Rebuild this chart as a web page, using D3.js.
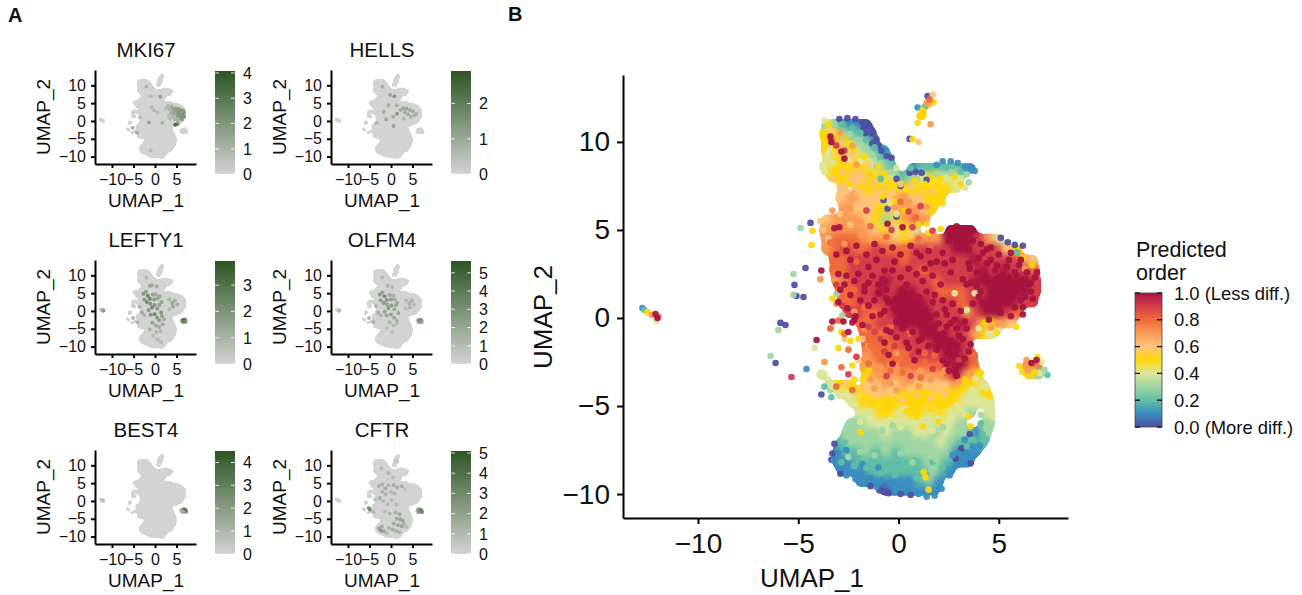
<!DOCTYPE html>
<html><head><meta charset="utf-8">
<script src="https://cdn.jsdelivr.net/npm/d3@7"></script>
<style>html,body{margin:0;background:#fff}svg{display:block}text{font-family:"Liberation Sans",Arial,sans-serif;fill:#111}</style>
</head><body><svg id="c" width="1302" height="595"></svg>
<script>
// Predicted order; v is tenths of the 0-1 scale. Rows: [umap2, [umap1, v, umap1, v, ...]]
const upperLobeRows = [
 [12.2,[1.5,6]],[11.5,[1.15,5]],
 [11.0,[-3.5,4,-3,2,-2.5,1,-2,1,-1.6,0]],
 [10.5,[-3.7,5,-3.2,5,-2.7,3,-2.2,2,-1.8,2,-1.35,0]],
 [10.0,[-3.6,5,-3.1,7,-2.6,5,-2.1,3,-1.6,3,-1.2,1]],
 [9.5,[-3.6,5,-3.1,6,-2.6,5,-2.1,4,-1.6,3,-1.1,2,-.7,1]],
 [9.0,[-3.5,4,-3,5,-2.5,6,-2,5,-1.5,4,-1,3,-.5,2]],
 [8.5,[-3.7,4,-3.2,5,-2.7,5,-2.2,5,-1.7,5,-1.2,4,-.7,3,-.3,2,.7,1,1.2,2,1.7,2,2.2,2,2.7,2,3.2,2,3.6,1]],
 [8.0,[-3.3,5,-2.8,5,-2.3,6,-1.8,6,-1.3,5,-.8,5,-.3,4,.2,2,.7,3,1.2,4,1.7,5,2.2,4,2.7,4,3.1,4]],
 [7.4,[-2.8,6,-2,6,-1.5,5,-1,6,-.5,5,0,5,.5,5,1,5,1.5,5,2,5,2.5,5,2.9,4]],
 [6.8,[-2.9,6,-2.3,7,-1.7,6,-1,6,-.4,6,.1,7,.6,6,1.1,6,1.6,5,2.1,5]],
 [6.2,[-2.7,7,-2.1,6,-1.5,6,-.9,5,-.3,6,.2,7,.7,7,1.2,6,1.7,5]],
 [5.6,[-3.6,6,-3.1,7,-2.6,7,-2.1,7,-1.6,6,-1.1,5,-.6,3,-.1,5,.4,7,.9,8,1.3,7]],
 [5.0,[-3.7,7,-3.2,7,-2.7,7,-2.2,7,-1.7,7,-1.2,6,-.7,5,-.2,4,.3,5,.8,4,2.6,10,3.1,10,3.6,10]],
 [4.5,[-3.6,7,-3.1,8,-2.6,8,-2.1,8,-1.6,7,-1.1,7,-.6,7,-.1,6,.4,5,.9,7,1.4,7,1.9,7,2.5,10,3,10,3.5,10,4,9,4.5,7,5,4]]
];
const middleBodyRows = [
 [3.9,[-3.6,7,-3.1,8,-2.6,9,-2.1,8,-1.6,8,-1.1,9,-.6,8,-.1,8,.4,8,.9,9,1.4,9,1.9,9,2.4,9,2.9,10,3.4,10,3.9,9,4.4,9,4.9,9,5.4,6,5.9,5]],
 [3.3,[-3.2,8,-2.7,8,-2.2,9,-1.7,9,-1.2,9,-.7,9,-.2,9,.3,8,.8,9,1.3,9,1.8,9,2.3,9,2.8,9,3.3,9,3.8,10,4.3,9,4.8,9,5.3,9,5.8,9,6.3,7,6.7,6]],
 [2.7,[-3.2,8,-2.75,8,-2.25,9,-1.75,9,-1.25,9,-.75,9,-.25,9,.25,9,.75,9,1.25,8,1.75,9,2.25,9,2.75,9,3.25,9,3.75,9,4.25,10,4.75,9,5.25,10,5.75,9,6.25,9,6.8,8]],
 [2.1,[-3.1,7,-2.6,8,-2.1,9,-1.6,9,-1.1,9,-.6,10,-.1,9,.4,9,.9,9,1.4,9,1.9,8,2.4,9,2.9,9,3.4,9,3.9,10,4.4,10,4.9,10,5.4,10,5.9,10,6.4,10,6.85,9]],
 [1.5,[-2.9,8,-2.35,8,-1.85,9,-1.35,9,-.85,10,-.35,9,.15,10,.65,10,1.15,9,1.65,9,2.15,8,2.65,8,3.15,8,3.65,9,4.15,9,4.65,10,5.15,10,5.65,10,6.15,10,6.85,9]],
 [.9,[-2.8,8,-2.3,8,-1.8,9,-1.3,9,-.8,9,-.3,10,.2,10,.7,10,1.2,10,1.7,9,2.2,9,2.7,9,3.2,8,3.7,9,4.2,10,4.7,10,5.2,10,5.7,10,6.2,9,6.7,9]],
 [.3,[-2.5,9,-2,9,-1.55,8,-1.05,8,-.55,9,-.05,10,.45,10,.95,10,1.45,10,1.95,9,2.45,9,2.95,9,3.45,7,3.95,9,4.45,10,4.95,10,5.45,9,5.95,8]],
 [-.3,[-1.9,8,-1.4,8,-.9,9,-.4,9,.1,10,.6,10,1.1,10,1.6,10,2.1,9,2.6,9,3.1,10,3.6,9,4.1,7,4.6,5,5.1,7,5.6,6]],
 [-.9,[-1.7,8,-1.2,8,-.7,8,-.2,9,.3,9,.8,9,1.3,10,1.8,10,2.3,10,2.8,9,3.3,9,3.8,7,4.3,5,4.7,4]],
 [-1.5,[-1.6,8,-1.1,8,-.6,8,-.1,8,.4,9,.9,9,1.4,9,1.9,10,2.4,10,2.9,10,3.4,9]],
 [-2.1,[-1.55,7,-1.05,8,-.55,8,-.05,8,.45,8,.95,9,1.45,9,1.95,9,2.45,10,2.95,10,3.45,9,3.7,8]],
 [-2.7,[-1.7,7,-1.2,7,-.7,8,-.2,7,.3,8,.8,8,1.3,8,1.8,8,2.3,9,2.8,10,3.3,10,3.75,8,6.4,7,6.9,8]],
 [-3.2,[-3.85,4,-1.6,5,-1.1,7,-.6,7,-.1,7,.4,7,.9,7,1.4,7,1.9,7,2.4,8,2.9,10,3.4,7,3.9,5,6.5,5,7,3]],
 [-3.8,[-3.4,4,-2.9,5,-2.4,5,-1.6,6,-1.15,6,-.65,7,-.15,6,.35,7,.85,6,1.35,6,1.85,6,2.35,6,2.85,7,3.3,5,3.85,5,4.25,4]],
 [-4.3,[-2.9,4,-2.4,4,-1.9,5,-1.5,6,-1,6,-.5,6,0,6,.5,5,1,5,1.5,5,2,6,2.5,5,3,5,3.5,4,4,4,4.4,5]],
 [-4.8,[-2.3,4,-1.8,5,-1.25,5,-.75,5,-.25,5,.25,5,.75,5,1.25,5,1.75,5,2.25,5,2.75,5,3.25,4,3.75,4,4.2,4,4.55,4]]
];
const lowerLobeRows = [
 [-5.4,[-1.9,4,-1.4,4,-.9,5,-.4,5,.1,4,.6,5,1.1,5,1.6,4,2.1,5,2.6,4,3.1,4,3.6,3,4.55,4]],
 [-6,[-2.4,3,-1.9,3,-1.4,4,-.9,4,-.4,4,.1,4,.6,4,1.1,4,1.6,4,2.1,4,2.6,4,3.1,3,4.3,3,4.55,3]],
 [-6.5,[-2.6,3,-2.1,3,-1.6,3,-1.1,3,-.6,4,-.1,3,.4,3,.9,4,1.4,4,1.9,3,2.4,4,2.9,3,3.4,3,3.9,1,4.4,3]],
 [-7.1,[-2.9,2,-2.4,3,-1.9,3,-1.4,3,-.9,3,-.4,3,.1,3,.6,3,1.1,3,1.6,3,2.1,4,2.6,3,3.1,2,3.6,2,4.2,2]],
 [-7.6,[-3.05,1,-2.6,2,-2.1,2,-1.6,3,-1.1,2,-.6,3,-.1,2,.4,3,.9,3,1.4,3,1.9,3,2.4,3,2.9,1,3.4,1,3.85,1]],
 [-8.2,[-3.05,1,-2.55,1,-2.05,2,-1.55,2,-1.05,2,-.55,2,-.05,2,.45,2,.95,2,1.45,3,1.95,3,2.4,2,3.05,1,3.5,1]],
 [-8.7,[-2.8,1,-2.3,1,-1.8,1,-1.3,2,-.8,2,-.3,2,.2,2,.7,2,1.2,2,1.7,3,2.25,2,2.55,1]],
 [-9.3,[-1.9,1,-1.4,1,-.9,1,-.4,1,.1,1,.6,1,1.1,2,1.6,3,2,1]],
 [-9.8,[-.7,0,-.2,1,.3,1,.8,1,1.3,1,1.8,1]]
];
// Single cells drawn on top: [v, [umap1, umap2, umap1, umap2, ...]]
const cellSpots = [
 [0,[-2.95,11.3,-2.55,11.35,-2.15,11.3,-1.8,11.1,-1.5,10.9,-1.3,10.5,-1.1,10.15,-1,9.8,-.85,9.5,-.6,9.2,-.35,9.1,.55,8.25,.85,8.3,1.15,8.25,1.4,7.85,-.1,7.9,.1,7.5,-4.39,5.4,-4.64,2.84,-5.19,1.88,-5.09,1.25,-4.74,1.19,-5.89,-.28,-5.64,-.4,-6.13,-2.56,-3.85,-4.35,.55,10.17,1.45,12.6,5.1,4.55,5.45,4.3,5.8,4.15,6.2,4.1,-.75,6.7,-.55,6.2,-.1,5.75,-3.2,-7.15,-3.3,-7.7,-3.35,-8.05,-2.9,-8.85,2.85,-8,3.15,-7.4,3.55,-6.6,3.6,-8.25,-1.4,-9.55,-.95,-9.8,-.5,-9.95,.1,-10,.6,-10.05,-1.65,10.5,-1.3,9.9,-1.75,10.8]],
 [1,[1.9,8.7,2.2,8.9,2.6,8.9,2.95,8.8,3.3,8.55,3.6,8.5,3.8,8.35,-4.59,-2.9,-12.77,.57,-3.25,-8.1,-3,-8.5,-2.6,-8.95,-2.15,-9.15,-1.7,-9.4,-1.1,-9.6,-.2,-9.7,1,-10,1.4,-10.15,1.8,-10.1,2.15,-9.7,2.55,-8.95,2.85,-8.4,3.3,-8.05,3.8,-7.7,4.05,-7.25,.95,11.95,-3,-7.7,-2.7,-8.3,-2.3,-8.7,-1.9,-8.9,-1.4,-9.1,-.9,-9.3,-.4,-9.4,.1,-9.6,.5,-9.3,-2.6,-7.5,-1.8,-8.3,-1,-8.5,3.3,-6.9,3.7,-7.3,2.7,-7.8]],
 [2,[-12.67,.45,-2.8,11,-2.3,10.8,-1.9,10.5,-1.6,10.1,-1.2,9.7,-.9,9.05,.6,8.5,1.5,8.55,2.4,8.55,3.1,8.3,-3.35,-4.5,-3.7,-3.9,-2.85,-8.2,-2.2,-8.4,-1.6,-8.5,-.9,-8.8,-.2,-8.9,.9,-9.1,1.4,-8.9,2.2,-8.5,3.4,-7.3,3.7,-6.9,4.2,-6.6,7.43,-3.24,1.3,12,5.9,3.75,-2.7,-7.1,-2,-7.9,-1.3,-8.1,-.5,-8.3,.3,-8.6,.8,-8.1,1.7,-8.2,4.1,-6,4.4,-6.9,-.9,7.9]],
 [3,[-4.89,5.11,-5.24,2.5,-5.24,1.31,-5.99,-.68,-6.38,-2.16,-3.4,-4.1,-3.7,10.9,-3.2,11,-2.4,10.45,-1.95,9.9,-1.35,9.3,-.9,8.8,-.4,8.3,.9,7.9,1.9,8.2,2.6,8.25,3.4,8.15,3.5,7.7,-2.5,-7.9,-1.9,-7.6,-1.2,-7.8,-.7,-7.4,.1,-7.7,.7,-8.2,1.2,-7.6,1.85,-8,-2.1,-6.3,-1.3,-6.8,-.3,-6.1,.5,-6.6,2.2,-6.2,3.1,-6.25,4.1,-5.5,7.28,-2.95,-2.8,.15,-3.1,1.35,-2.3,-6.9,-1.7,-7,-.8,-6.4,-.1,-6.8,1,-7,1.6,-7.3,2.6,-6.9,-2.7,9.6,-2,10.1,-1.6,9.6,-1.1,8.6,4.4,-6.3,-2.4,-6.6]],
 [4,[-4.19,-1.7,-12.07,-.17,-3.7,11.2,-3.55,9.3,-3.8,8.7,-3.7,8.3,-3.25,8.8,3.3,7.4,-3.7,-3.2,-3.5,-3.5,-3.3,-3.9,-2.95,-4.4,-2.6,-4.55,-2.2,-4.9,-1.4,-5.7,-.5,-5.6,.3,-5.1,1.2,-5.8,2,-5.7,2.9,-5,3.5,-4.8,3.7,-4.1,3.85,-3.45,4.35,-3.9,4.65,-5,4.7,-5.6,2.8,1.4,3.8,1.4,3.4,.45,7.13,-2.5,7.03,-3.13,4,-.6,4.5,-.9,5,-.7,-1.9,-5.9,-1,-6,.1,-6.2,.8,-5.9,1.7,-6.4,2.6,-5.7,3.3,-5.5,-2.5,9,-1.9,8.9,-3.4,9.6,-.1,8.5,-.4,6.5,-.1,5.9]],
 [5,[-12.52,.34,-3.75,10.3,-3.65,9.9,-3.15,9.6,-2.5,9.9,-1.7,9.2,-1,8.6,-.4,7.75,.4,7.3,1.3,7.6,2.1,7.9,2.8,8,3.1,7.6,-2.7,7.85,-1.9,7.5,-.8,6.9,.3,6.1,1,5.3,1.4,5.35,-3,-1.7,-3.3,1.1,-2.85,-.8,-2.4,-1.3,-2,-1.2,-2.3,-2.7,-2.2,-3.5,-3,-3.8,-2.5,-3.9,-1.8,-3.5,-1.5,-3,-1.2,-4.7,-.5,-4.6,.1,-4.4,.7,-4.9,1.3,-4.3,2,-4.4,2.6,-4.6,3.3,-3.5,4.1,-3.1,4.25,-4.25,4.55,-4.45,6.03,-2.73,6.18,-3.07,6.78,-3.07,6.93,-2.22,.7,10.15,1.05,11.45,.95,11.07,1.75,12.25,1.15,11.65,1.2,11.8,-1.9,-6.5,1.2,-6.15,1.35,-9.05,1.25,-8.75,1.5,-9.75,3.5,-5.6,3.6,-6.15,6.2,3.4,6.65,3,2.1,5.05,1.5,4.85,4.9,-.85,4.3,-.25,5.85,-.5,-4.29,4.94,-4.34,4.15,-1.4,-4.9,-.8,-5.1,-.2,-4.9,.4,-5.3,1,-5,1.6,-5.2,2.2,-4.9,2.8,-4.2,3.2,-4,-.6,-5.5,.9,-5.6,2,-5.9,-1.6,-4.5,-.9,-4.6,.2,-4.8,1.9,-4.7,-3.5,11,-3.2,10.3,-2.2,9.5,-1.4,8.3,-.7,8.2,-1.5,7.2,-2.4,7.6,-1,7.5,1.9,7.5,.8,7.8,1.5,6.7,2.2,6.5,-.2,6.6]],
 [6,[-3.3,10.6,-2.9,9.95,-2.3,9.3,-1.5,8.7,-2.8,8.3,-2,8.3,-1.2,7.75,-.3,7.1,.6,7.5,1.7,7.2,-3.9,5.5,-3.75,5,-3.5,4.5,-2.9,5.9,-2.4,5.3,-1.2,5,-.2,5.3,.6,4.7,-2.7,-1.2,-3.7,-2.5,-3.9,2.2,-2.65,-3.7,-2,-2.4,-1.8,-1.2,-1,-4,-.2,-3.7,.6,-4,1.5,-3.9,2.3,-3.8,1,10,1.7,12.67,-1,-4.4,-.4,-4.2,.2,-4.7,.9,-4.4,1.6,-4.6,2.3,-4.3,-3.3,7.9,-2.6,7.2,-2,6.3,.1,7.6,1,6.6]],
 [7,[-12.3,.17,-11.97,.1,-3.3,10.2,-2.9,10.5,-2.3,9.8,-2.1,8.7,-.2,6.3,.5,6.6,1.2,5.6,-3.3,6.1,-2.4,6.2,-1.9,4.7,-3.4,-.6,-3.69,-2.5,-3.1,.8,-2.2,.35,-1.7,-.6,-1.5,-1.6,-1.7,-2.3,-.9,-2.8,-.1,-2,1,-3,2.3,-3,3,-3.6,3.6,-3.1,6.38,-2.39,6.43,-2.95,1.4,12.2,1.6,11,5,-.3,4.6,-.55,6.3,2.8,-3.9,2.2,-1.4,-3.5,-.9,-3.2,-.4,-3.7,.1,-3.2,.6,-3.6,1.1,-3,1.6,-3.5,2.1,-3.2,-1.2,-4,-.1,-4.1,1,-3.9,-1.9,5.5,-2.7,4.2,-1.4,4.4,.3,6.9,.9,6.2,1.4,6.3]],
 [8,[-3.4,-.6,-3,-.15,-2.7,-.9,-2.85,-2.8,-3.1,-3.9,-2.3,-4.1,-3.4,4.3,-2.9,3,-2.1,3.2,-1.4,5.2,-.6,4.6,.3,4,1,4.5,1.6,4.1,-2.5,-1.8,-1.1,-1.1,-.4,-.5,.5,-.9,-.9,-2,.2,-2.6,1.3,-2,2,-2.6,1.55,12.4,.1,6.6,.85,5.7,-1.4,-1.6,-.8,-1.5,-.2,-2.4,.3,-1.9,.8,-2.8,1.3,-2.5,1.8,-2.1,-1.5,-2.6,-.9,-2.3,-.4,-3,.2,-3.1,1.1,-3.4,-1.6,-.4,-.9,-.9,-1.7,.6,-2.2,1.6]],
 [9,[-5.34,-3.35,-2.5,-3.2,-3.1,9.8,-2.7,9.5,-1.6,6.1,.5,6.05,1.1,6.35,-.35,5,.7,5.15,1.7,4.95,-3.1,1.9,-2.8,.7,-2.1,-2.2,-1.5,-.5,-.9,-1.2,-.2,-1.6,.7,-2.1,-.6,-3.3,.6,-3.3,1.7,-2.9,3,-2.4,-1.1,1,-.4,-.2,1.2,-1.5,2.1,-.6,.3,-1,-.7,-1.9,-1.2,-.8]],
 [10,[-4.09,-1.25,-3.85,2.7,-3.3,-.2,-2.75,-.2,-2.3,-.25,-3.2,5.1,-2.95,5.15,-3.4,10.3,-3.35,10,-2.85,9.45,-2.7,9.05,-.55,5.35,.2,5.15,-2.55,.55,-2.5,-.8,-2.15,.1,-3,2.5,-2.7,1.9,-2.4,3.3,-2,2.5,-2.4,1.3,-1.9,1,-1.5,2.9,-1.1,3.3,-1,1.9,-.7,2.7,-.5,.9,-.2,3.2,.2,1.6,.5,2.8,.7,.4,.9,3.7,1,1.2,1.2,2.1,1.4,-.4,1.6,3.1,1.7,.9,1.95,-1,2.1,1.9,2.2,3.7,2.3,.5,2.4,-.5,2.6,2.6,2.7,3.3,2.65,4.8,2.9,4.2,3.05,5.1,3.3,4.6,3.5,3.9,3.7,5,3.2,2.2,3.55,2.8,3.9,1.8,4,3.4,4.2,.8,4.3,2.4,4.5,-.1,4.6,4,4.7,1.5,4.9,3,5,.4,5.1,2.3,5.3,1.2,5.5,3.3,5.6,.1,5.7,1.9,6,3,6.1,1,6.3,2.2,6.6,1.5,6.8,2.3,6.2,.2,5,1.6,4.4,3.1,-1.5,2,-.6,1.1,.2,-.6,1,-1.3,-.9,.2,-.4,-.8,.5,-1.7,1.9,-1.8,2.6,-1.3,3.2,-1.2,2.2,-2.4,2.7,-2.1,3,-2.7,3.5,-1.9,2.5,-3,2.9,-3.3,3.6,-1.5,-.3,-2.6,6.63,-2.56,6.88,-2.39,-12.12,.22,-12.02,0,.8,-2.4,1.15,-1.2,1.9,.2,2.9,-.6,3.3,-.2,-1.2,1,-1.7,1.5,-.1,-.2,3.4,1.9,4.9,2.2,5.8,2.6,6.5,1.9,-2.6,3.8,-2.1,4.1,-1.6,3.6,-1.2,4.2,-.8,3.8,-.3,4,.1,3.6,.6,4.1,1.1,3.5,1.5,3.8,1.9,3.2,2.3,3.1,-2.2,2.1,-1.7,1.8,-1.3,2.4,-.8,2.2,-.3,2.7,.1,2.3,.4,1.9,.9,2.5,1.3,2.8,1.7,2.4,-1.5,.7,-1,1.4,-.6,1.6,-.1,1.1,.3,.9,.7,1.4,1,.7,1.4,1.5,1.8,1.3,2.2,1,2.7,.8,-.7,.4,-.2,.5,.2,.1,.6,-.1,1,.2,1.3,.5,1.6,.1,2,-.3,2.4,.2,2.8,-.1,3.1,.4,-.6,-.7,-.1,-1.1,.3,-.4,.7,-.8,1.1,-.3,1.5,-.9,1.8,-.5,2.2,-.9,2.6,-.3,3,-1,3.4,-.6,1.5,-1.6,2.1,-1.5,2.5,-1.9,2.9,-1.6,3.3,-2.3,2.4,-2.6,2.8,-3,1,-1.9,.4,-1.4,-.5,-2.1,3.5,3.1,3.9,2.6,4.2,3.7,4.4,2,4.6,3.3,4.8,2.7,5,3.6,5.2,2.1,5.4,2.9,5.6,3.7,5.8,1.5,5.9,2.4,6.1,3.3,6.3,1.2,6.4,2.6,6.6,2,6.7,1.1,6.9,2.6,3.7,.8,4,1.2,4.4,.5,4.8,1,5.1,.3,5.4,.9,5.8,.6,6.2,.6,3.6,2,4.1,1.5,5,1,5.5,2.3,2.5,4.4,2.8,4.7,3,5,3.3,5.1,3.5,4.8,3.7,4.4,3.2,4.3,2.6,5,2.9,5.2,3.4,4.3,4.1,4.2,4.4,3.9,-3.1,3.6,-2.9,1.6,-3,.9,-2.6,2.4,-2.2,-.1,-1.8,-.4,-1.3,.1,-.7,-1.4,1.2,-.9]]
];
// Cells with expression above zero: flat triples umap1, umap2, expression
const mki67Cells = [2.6,3.6,.9,3,4.2,1,3.4,3.3,1.2,3.7,2.2,1.2,3.9,4.1,1.4,4.2,3.2,1.5,4.4,1.9,1.6,4.8,3.6,1.7,5,2.6,1.9,5.2,1.3,1.8,5.4,3.4,2,5.7,2.2,2.1,5.9,.9,2,6.1,3,2.2,6.4,1.8,2.3,6.7,2.4,2.3,6.8,1.2,2.2,6.3,.4,2,5.3,.1,1.6,4.6,.5,1.3,4,1.1,1,3.2,1.5,.9,4.7,3,1.7,5.6,2.9,2,5.4,1.9,2,4.4,2.6,1.6,6.2,1.3,2.2,6.5,2.9,2,3.5,.6,.9,4.7,-1.1,4,5.2,-.9,3,-2,9.7,1.2,-1,6.9,.8,1.2,6.8,1.7,-.2,2.9,.8,-1.4,-.4,1.7,1.7,-.6,1.2,-3.5,1,.9,-.8,3.8,.9,.6,2.4,.8,-5.2,-1.9,1.5,-4.2,-3.3,1.3,-1,-8.2,1];
const hellsCells = [1.3,4.4,.9,2.2,3.1,1,2.8,3.6,1.1,3.2,2.4,1,3.6,3.4,1.2,4,1.9,1,4.3,3.1,1,4.6,1.1,.9,5.1,2.7,1.1,5.4,1.5,.9,5.9,2,.8,3,.6,.8,1.4,2,1.5,.5,1.2,1,-.6,4.4,.9,-1.7,2.6,1,-2,9.6,1,-.2,7.3,1.2,.8,6.9,1.5,-1.1,.4,1.2,.6,-1.4,1.3,-3.4,-.6,.8];
const lefty1Cells = [-2,9.3,1,-1.2,7.1,1.6,-.7,7.2,1.4,.4,6.9,1.3,-2.7,4.8,2.2,-2.1,5.4,2,-1.7,4.3,2.7,-1.2,3.4,2.8,-2.5,3.2,2,-1.9,2.5,2.6,-1.1,2,2.3,-.5,4.6,1.8,-.2,3.2,2,.2,4.6,1.4,.6,3.5,1.6,1.1,4.1,1.4,1.5,2.5,1.8,-.7,1,2.6,-.1,1.7,2.3,.5,.6,2,1,1.7,1.8,1.4,-.4,2.2,-1.5,.3,2,-1,-1.1,2.3,-.1,-.9,2.6,.5,-1.9,2.2,1,-2.6,1.8,1.6,-1.4,1.7,2.1,-2.3,1.4,-.6,-3.3,1.8,.2,-4.1,1.6,1,-4.5,1.5,1.8,-3.7,1.4,-1.2,-5.2,1.2,.3,-5.9,1,1.3,-5.6,1.1,-.4,-7,.9,.6,-8,1,1.4,-8.8,.9,3.3,3.2,1.2,4,2.2,1.6,4.6,2.9,1.4,4.2,1.2,1.5,5.2,1.8,1.3,3.3,.5,.9,6.4,-2.6,2.8,6.7,-2.7,3.4,6.9,-2.5,3.2,6.6,-3,2.8,7,-3,2.2,-12,.1,2.6,-12.2,.3,1.3,-3.6,1.2,1,-5.1,-2,1.2,-4,-3.2,1,-3,-.4,1.4,-2.5,-1.2,1.1];
const olfm4Cells = [-2,9.4,1.3,-.8,7.1,1.6,.3,6.7,1.4,-2.6,4.6,2.8,-2,5.2,2.4,-1.5,4.1,3.4,-1,3.1,3.2,-2.4,3,2.6,-1.7,2.2,3,-.9,1.8,2.4,-.3,4.5,2.2,0,3.2,2.8,.5,4.3,1.9,.9,3.2,1.8,1.4,2.3,2,-.6,.8,3,.1,1.5,2.8,.8,.5,2.2,1.1,1.6,2,1.7,-.6,2.2,-1.5,-.2,2.4,-1,-1.3,2.4,0,-1,2.6,.7,-1.9,2.2,1.3,-2.6,1.6,-.3,-3.2,1.5,.6,-4.1,1.4,1.4,-3.5,1.2,3.5,2.9,1.4,4.3,2.1,1.9,4.8,3,1.6,4.4,1,1.7,5.4,1.8,1.3,3.4,.7,1.2,6.4,-2.6,2.2,6.7,-2.7,3.8,7,-2.6,3.2,6.6,-3,3,7,-3,2.4,-3.5,1.4,1.5,-5.1,-2,1.8,-4.1,-3.1,1.6,-3,-.5,1.9,-2.4,-1.2,1.5,-1,-4.8,1,.2,-6,.9,-12,.1,1.4];
const best4Cells = [6.1,-2.6,1,6.4,-2.4,1.6,6.7,-2.3,2.4,7,-2.5,3.2,7.2,-2.8,3.6,6.9,-3,2.6,6.6,-3,1.6,6.3,-3,1.2,-12.1,.2,.9];
const cftrCells = [-2.2,9.2,1,-.6,7.8,1.3,.5,6.6,1,1.3,11.2,.8,-2.8,4.2,1.5,-2,4.6,1.6,-1.3,3.5,1.8,-.6,4.4,1.5,.6,4.5,1.8,1.4,3.8,1.5,-2,2.5,1.5,-1.2,1.9,1.3,0,2.6,1.4,.8,2.1,1.2,2.5,4.1,1.6,3.2,3.2,.9,-2.6,.8,1.8,-1.8,-.1,1.2,-.8,-.9,1.1,.2,.3,1.1,1.2,-1,1.3,-1.4,-3,1,-.3,-3.5,1.2,1.1,-3.3,1.6,2,-3.7,2,1.3,-5,1.8,2.2,-5.1,2.3,2.8,-5.6,2.1,.6,-6.3,1.8,1.6,-6.8,2,2.5,-7.1,2.2,3,-6.5,1.5,-.5,-7.6,1.5,.4,-8,1.6,1.3,-8.4,1.7,-2.8,-7.7,2.2,-2.3,-8.3,2.6,-1.6,-8.6,2,-2.1,-7.2,1.8,-1,-9,1.3,2,-8.8,1.3,3.6,-7.3,1.1,6.2,-2.5,1.8,6.6,-2.3,2.4,7,-2.7,3.6,7.2,-3.1,3.2,6.4,-3.1,2.8,-5.2,-2,2.8,-4.9,-2.4,3.4,-4.1,-3.2,1.2,-3.7,.4,1.1];
const orderTicks = [0,.2,.4,.6,.8,1];
const orderLabels = ["0.0 (More diff.)","0.2","0.4","0.6","0.8","1.0 (Less diff.)"];
const umap1Ticks = [-10,-5,0,5];
const umap2Ticks = [-10,-5,0,5,10];
const genes = ["MKI67","HELLS","LEFTY1","OLFM4","BEST4","CFTR"];
const geneCells = [mki67Cells,hellsCells,lefty1Cells,olfm4Cells,best4Cells,cftrCells];
const geneMax = [4.08,2.92,3.92,5.65,4.5,5.1];

const orderStops = [0,.1,.2,.3,.4,.5,.6,.7,.8,.9,1];
const orderColors = ["#4f4ea3","#3a8dbf","#5fbea6","#9fd6a4","#dbe69b","#ffd60c","#fdc57a","#f99a55","#ef6a3c","#d43d4a","#a5133f"];
const orderColor = d3.scaleLinear().domain(orderStops).range(orderColors);

const wash = [...upperLobeRows,...middleBodyRows,...lowerLobeRows].flatMap(([y,r])=>d3.range(0,r.length,2).map(i=>({x:r[i],y,v:r[i+1]/10})));
const spots = cellSpots.flatMap(([v,r])=>d3.range(0,r.length,2).map(i=>({x:r[i],y:r[i+1],v:v/10})));
const svg = d3.select("#c");
const defs=svg.append("defs");
function goo(id,sd,a,b){
  const f=defs.append("filter").attr("id",id).attr("x","-5%").attr("y","-5%").attr("width","110%").attr("height","110%").attr("color-interpolation-filters","sRGB");
  f.append("feGaussianBlur").attr("stdDeviation",sd);
  f.append("feColorMatrix").attr("values",`1 0 0 0 0 0 1 0 0 0 0 0 1 0 0 0 0 0 ${a} ${b}`);
}
goo("washGoo",3.2,14,-6.5);
goo("baseGoo",.9,8,-3);
defs.append("filter").attr("id","soft").append("feGaussianBlur").attr("stdDeviation",.55);

function axes(g,x,y,xt,yt,fs,ts,w,padX,padY){
  const [l]=x.range(), [b]=y.range();
  const ax=g.append("g").attr("transform",`translate(0,${b})`).call(d3.axisBottom(x).tickValues(xt).tickSize(ts).tickSizeOuter(0).tickPadding(padX));
  const ay=g.append("g").attr("transform",`translate(${l},0)`).call(d3.axisLeft(y).tickValues(yt).tickSize(ts).tickSizeOuter(0).tickPadding(padY));
  [ax,ay].forEach(a=>{
    a.selectAll("path").attr("stroke","#000").attr("stroke-width",w);
    a.selectAll("line").attr("stroke","#000").attr("stroke-width",w);
    a.selectAll("text").attr("font-size",fs).attr("font-family",'"Liberation Sans",Arial,sans-serif').attr("fill","#111");
  });
}

// Panel B
const bx=d3.scaleLinear().domain([-13.74,8.45]).range([623,1068]);
const by=d3.scaleLinear().domain([-11.36,13.8]).range([518,75]);
const B=svg.append("g");
B.append("g").attr("filter","url(#washGoo)").selectAll("circle").data(wash).join("circle")
 .attr("cx",d=>bx(d.x)).attr("cy",d=>by(d.y)).attr("r",6).attr("fill",d=>orderColor(d.v));
B.append("g").selectAll("circle").data(spots).join("circle")
 .attr("cx",d=>bx(d.x)).attr("cy",d=>by(d.y)).attr("r",3.3).attr("fill",d=>orderColor(d.v)).attr("fill-opacity",.93);
axes(B,bx,by,umap1Ticks,umap2Ticks,28,6,2,9,7);
B.append("text").attr("x",812).attr("y",587).attr("text-anchor","middle").attr("font-size",26).text("UMAP_1");
B.append("text").attr("transform","translate(552,317) rotate(-90)").attr("text-anchor","middle").attr("font-size",26).text("UMAP_2");

// Order legend
const lg=defs.append("linearGradient").attr("id","og").attr("x1",0).attr("x2",0).attr("y1",1).attr("y2",0);
orderStops.forEach((s,i)=>lg.append("stop").attr("offset",s).attr("stop-color",orderColors[i]));
const ly=d3.scaleLinear().domain([0,1]).range([427,293]);
svg.append("rect").attr("x",1135).attr("y",293).attr("width",27).attr("height",134).attr("fill","url(#og)").attr("stroke","#444").attr("stroke-width",.8);
orderTicks.forEach((t,i)=>{
  [[1135,1140],[1157,1162]].forEach(p=>svg.append("line").attr("x1",p[0]).attr("x2",p[1]).attr("y1",ly(t)).attr("y2",ly(t)).attr("stroke","#111").attr("stroke-width",1.3));
  svg.append("text").attr("x",1174).attr("y",ly(t)+6.5).attr("font-size",18.4).text(orderLabels[i]);
});
svg.append("text").attr("x",1136).attr("y",257).attr("font-size",21.5).text("Predicted");
svg.append("text").attr("x",1136).attr("y",280).attr("font-size",21.5).text("order");

// Panel A
const allCells=[...wash,...spots];
genes.forEach((name,k)=>{
  const dx=236*(k%2), dy=190*Math.floor(k/2);
  const g=svg.append("g").attr("transform",`translate(${dx},${dy})`);
  const x=d3.scaleLinear().domain([-13.95,9.53]).range([95,196]);
  const y=d3.scaleLinear().domain([-12.08,14.3]).range([164,70]);
  g.append("g").attr("filter","url(#baseGoo)").selectAll("circle").data(allCells).join("circle")
   .attr("cx",d=>x(d.x)).attr("cy",d=>y(d.y)).attr("r",1.7).attr("fill","#d3d3d3");
  const col=d3.scaleLinear().domain([0,geneMax[k]]).range(["#d3d3d3","#2c5522"]);
  const c=geneCells[k];
  g.append("g").attr("filter","url(#soft)").selectAll("circle").data(d3.range(0,c.length,3)).join("circle")
   .attr("cx",i=>x(c[i])).attr("cy",i=>y(c[i+1])).attr("r",2).attr("fill",i=>col(c[i+2])).attr("fill-opacity",.85);
  axes(g,x,y,umap1Ticks,umap2Ticks,16,4,2,6,5);
  g.append("text").attr("x",146).attr("y",57).attr("text-anchor","middle").attr("font-size",20.5).text(name);
  g.append("text").attr("x",146).attr("y",207).attr("text-anchor","middle").attr("font-size",19).text("UMAP_1");
  g.append("text").attr("transform","translate(50,117) rotate(-90)").attr("text-anchor","middle").attr("font-size",19).text("UMAP_2");
  const gy=d3.scaleLinear().domain([0,geneMax[k]]).range([174,71]);
  const id="gg"+k;
  const gr=defs.append("linearGradient").attr("id",id).attr("x1",0).attr("x2",0).attr("y1",1).attr("y2",0);
  gr.append("stop").attr("offset",0).attr("stop-color","#d3d3d3");
  gr.append("stop").attr("offset",1).attr("stop-color","#2c5522");
  g.append("rect").attr("x",215).attr("y",71).attr("width",20).attr("height",103).attr("fill",`url(#${id})`);
  d3.range(0,Math.floor(geneMax[k])+1).forEach(t=>{
    [[215,219],[231,235]].forEach(p=>g.append("line").attr("x1",p[0]).attr("x2",p[1]).attr("y1",gy(t)).attr("y2",gy(t)).attr("stroke","#fff").attr("stroke-width",.8));
    g.append("text").attr("x",243).attr("y",gy(t)+5.8).attr("font-size",16).text(t);
  });
});
svg.append("text").attr("x",8).attr("y",22).attr("font-size",20).attr("font-weight","bold").text("A");
svg.append("text").attr("x",508).attr("y",21).attr("font-size",20).attr("font-weight","bold").text("B");
</script></body></html>
